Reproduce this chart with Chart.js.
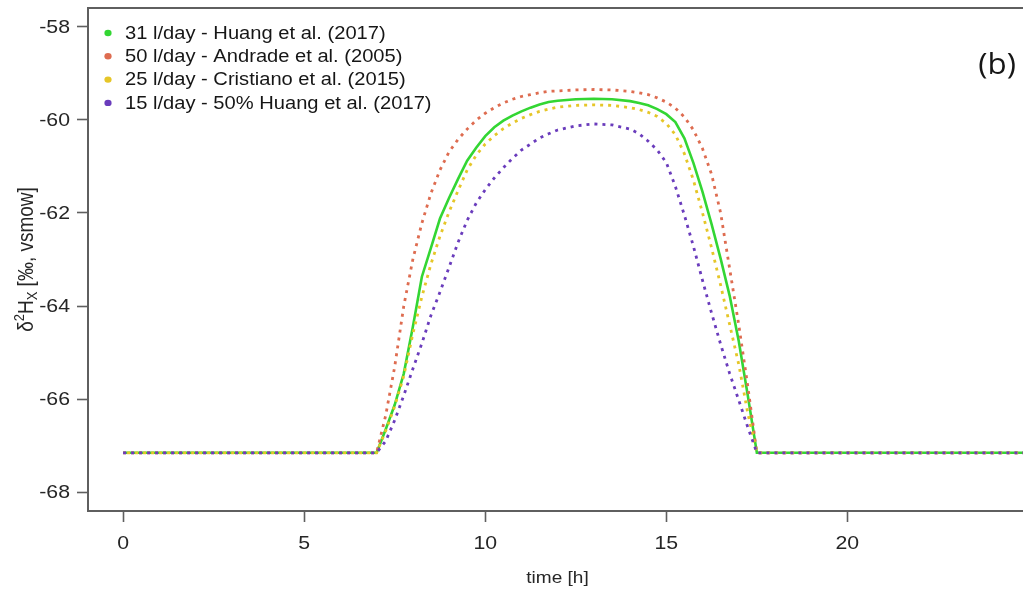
<!DOCTYPE html>
<html>
<head>
<meta charset="utf-8">
<script src="https://cdn.jsdelivr.net/npm/chart.js@4.4.1/dist/chart.umd.min.js"></script>
<style>
  html, body { margin: 0; padding: 0; background: #ffffff; overflow: hidden; }
  #wrap { width: 1023px; height: 589px; }
</style>
</head>
<body>
<div id="wrap"><canvas id="chart" width="1023" height="589"></canvas></div>
<script>
// Simulation time steps [h]
const times = [0, 1, 2, 3, 4, 5, 6, 7,
  7.25, 7.5, 7.75, 8, 8.25, 8.5, 8.75, 9, 9.25, 9.5, 9.75, 10,
  10.25, 10.5, 10.75, 11, 11.25, 11.5, 11.75, 12,
  12.5, 13, 13.5, 14,
  14.25, 14.5, 14.75, 15, 15.25, 15.5, 15.75, 16, 16.25, 16.5, 16.75, 17, 17.25, 17.5,
  18, 19, 20, 21, 22, 23, 24, 25];

// δ2H of xylem water [‰, VSMOW] for each transpiration scenario
const huang31 = [-67.15, -67.15, -67.15, -67.15, -67.15, -67.15, -67.15, -67.15,
  -66.65, -66.12, -65.45, -64.45, -63.37, -62.75, -62.12, -61.68, -61.27, -60.88, -60.60, -60.35,
  -60.16, -60.02, -59.91, -59.82, -59.74, -59.67, -59.62, -59.59,
  -59.56, -59.55, -59.56, -59.60,
  -59.64, -59.69, -59.77, -59.88, -60.05, -60.40, -60.93, -61.55, -62.24, -62.98, -63.78, -64.75, -65.92, -67.15,
  -67.15, -67.15, -67.15, -67.15, -67.15, -67.15, -67.15, -67.15];

const andrade50 = [-67.15, -67.15, -67.15, -67.15, -67.15, -67.15, -67.15, -67.15,
  -66.35, -65.30, -64.00, -63.00, -62.22, -61.58, -61.08, -60.69, -60.42, -60.20, -60.01, -59.86,
  -59.74, -59.64, -59.56, -59.50, -59.46, -59.42, -59.39, -59.38,
  -59.36, -59.35, -59.36, -59.39,
  -59.42, -59.46, -59.53, -59.62, -59.75, -59.94, -60.22, -60.62, -61.17, -62.00, -63.20, -64.40, -65.72, -67.15,
  -67.15, -67.15, -67.15, -67.15, -67.15, -67.15, -67.15, -67.15];

const cristiano25 = [-67.15, -67.15, -67.15, -67.15, -67.15, -67.15, -67.15, -67.15,
  -66.68, -66.15, -65.50, -64.60, -63.80, -63.10, -62.50, -61.98, -61.52, -61.08, -60.76, -60.52,
  -60.34, -60.19, -60.07, -59.97, -59.89, -59.82, -59.77, -59.73,
  -59.69, -59.68, -59.69, -59.74,
  -59.78, -59.84, -59.93, -60.08, -60.32, -60.73, -61.30, -62.00, -62.75, -63.55, -64.40, -65.25, -66.30, -67.15,
  -67.15, -67.15, -67.15, -67.15, -67.15, -67.15, -67.15, -67.15];

const huang15 = [-67.15, -67.15, -67.15, -67.15, -67.15, -67.15, -67.15, -67.15,
  -66.90, -66.45, -65.92, -65.35, -64.80, -64.20, -63.70, -63.17, -62.63, -62.16, -61.79, -61.50,
  -61.25, -61.03, -60.83, -60.65, -60.52, -60.39, -60.30, -60.22,
  -60.13, -60.09, -60.11, -60.20,
  -60.30, -60.46, -60.65, -60.92, -61.43, -62.05, -62.72, -63.45, -64.15, -64.82, -65.45, -66.02, -66.60, -67.15,
  -67.15, -67.15, -67.15, -67.15, -67.15, -67.15, -67.15, -67.15];

const seriesNames = [
  '31 l/day - Huang et al. (2017)',
  '50 l/day - Andrade et al. (2005)',
  '25 l/day - Cristiano et al. (2015)',
  '15 l/day - 50% Huang et al. (2017)'
];
const seriesColors = ['#33d633', '#de6c50', '#e6c628', '#6a3cbc'];

const xTickValues = [0, 5, 10, 15, 20];
const yTickValues = [-68, -66, -64, -62, -60, -58];

const panelLabel = '(b)';
const xTitle = 'time [h]';

// pair each series with the time steps
const toPoints = arr => times.map((t, i) => ({ x: t, y: arr[i] }));

// glyphs of this figure are set a little wider than the font's natural width
const WIDEN = 1.15;
const FONT = '"Liberation Sans", Arial, sans-serif';

function wideText(ctx, txt, x, y, align, size, color, family, widen) {
  const k = widen || WIDEN;
  ctx.save();
  ctx.font = size + 'px ' + (family || FONT);
  ctx.fillStyle = color;
  ctx.textBaseline = 'middle';
  ctx.textAlign = 'left';
  const w = ctx.measureText(txt).width * k;
  let left = x;
  if (align === 'center') left = x - w / 2;
  else if (align === 'right') left = x - w;
  ctx.translate(left, y);
  ctx.scale(k, 1);
  ctx.fillText(txt, 0, 0);
  ctx.restore();
}

const figureText = {
  id: 'figureText',
  afterDraw(chart) {
    const ctx = chart.ctx;
    const area = chart.chartArea;
    const xs = chart.scales.x;
    const ys = chart.scales.y;

    // upper edge of the plot frame
    ctx.save();
    ctx.strokeStyle = '#5f5f5f';
    ctx.lineWidth = 2;
    ctx.beginPath();
    ctx.moveTo(area.left - 1, area.top);
    ctx.lineTo(area.right, area.top);
    ctx.stroke();
    ctx.restore();

    // tick labels
    xs.ticks.forEach(t => {
      wideText(ctx, String(t.value), xs.getPixelForValue(t.value), 544, 'center', 18.5, '#262626');
    });
    ys.ticks.forEach(t => {
      wideText(ctx, String(t.value), 70, ys.getPixelForValue(t.value) + 1, 'right', 18.5, '#262626');
    });

    // legend in the upper left corner of the panel
    seriesNames.forEach((name, i) => {
      const y = 33 + i * 23.3;
      ctx.save();
      ctx.fillStyle = seriesColors[i];
      ctx.beginPath();
      ctx.ellipse(108, y, 3.6, 3.2, 0, 0, Math.PI * 2);
      ctx.fill();
      ctx.restore();
      wideText(ctx, name, 125, y + 1, 'left', 17.5, '#161616');
    });

    // panel label
    wideText(ctx, panelLabel, 1016, 66, 'right', 29, '#161616', '"Open Sans", "Noto Sans", sans-serif', 1.08);

    // x axis title
    wideText(ctx, xTitle, (area.left + xs.getPixelForValue(24.96)) / 2, 578, 'center', 17, '#262626', FONT, 1.12);

    // y axis title: δ²H_X [‰, vsmow], written bottom to top
    const parts = [
      { t: '\u03B4', size: 19, dy: 0 },
      { t: '2', size: 13, dy: -6.5 },
      { t: 'H', size: 19, dy: 0 },
      { t: 'X', size: 13, dy: 5.5 },
      { t: ' [\u2030, vsmow]', size: 19, dy: 0 }
    ];
    ctx.save();
    let total = 0;
    parts.forEach(p => { ctx.font = p.size + 'px ' + FONT; p.w = ctx.measureText(p.t).width; total += p.w; });
    const cy = (area.top + area.bottom) / 2;
    ctx.translate(27, cy);
    ctx.scale(WIDEN, 1);
    ctx.rotate(-Math.PI / 2);
    ctx.fillStyle = '#262626';
    ctx.textBaseline = 'middle';
    ctx.textAlign = 'left';
    let pos = -total / 2;
    parts.forEach(p => {
      ctx.font = p.size + 'px ' + FONT;
      ctx.fillText(p.t, pos, p.dy);
      pos += p.w;
    });
    ctx.restore();
  }
};

const dotted = [3, 5];

new Chart(document.getElementById('chart'), {
  type: 'line',
  data: {
    datasets: [
      { label: seriesNames[0], data: toPoints(huang31), borderColor: seriesColors[0], borderWidth: 2.6, order: 4 },
      { label: seriesNames[1], data: toPoints(andrade50), borderColor: seriesColors[1], borderWidth: 2.8, borderDash: dotted, order: 3 },
      { label: seriesNames[2], data: toPoints(cristiano25), borderColor: seriesColors[2], borderWidth: 2.8, borderDash: dotted, borderDashOffset: 4, order: 2 },
      { label: seriesNames[3], data: toPoints(huang15), borderColor: seriesColors[3], borderWidth: 2.8, borderDash: dotted, order: 1 }
    ]
  },
  options: {
    responsive: false,
    devicePixelRatio: 1,
    animation: false,
    events: [],
    layout: { padding: { top: 8, right: 0, bottom: 0, left: 0 } },
    elements: {
      point: { radius: 0 },
      line: { tension: 0, borderCapStyle: 'butt', fill: false }
    },
    plugins: {
      legend: { display: false },
      tooltip: { enabled: false }
    },
    scales: {
      x: {
        type: 'linear',
        min: -0.97,
        max: 24.85,
        afterBuildTicks: s => { s.ticks = xTickValues.map(v => ({ value: v })); },
        afterFit: s => { s.height = 78; },
        ticks: { display: false },
        grid: { drawOnChartArea: false, drawTicks: true, tickLength: 11, tickColor: '#5f5f5f', tickWidth: 1.6 },
        border: { display: true, color: '#5f5f5f', width: 2 }
      },
      y: {
        type: 'linear',
        min: -68.4,
        max: -57.6,
        afterBuildTicks: s => { s.ticks = yTickValues.map(v => ({ value: v })); },
        afterFit: s => { s.width = 88; },
        ticks: { display: false },
        grid: { drawOnChartArea: false, drawTicks: true, tickLength: 11, tickColor: '#5f5f5f', tickWidth: 1.6 },
        border: { display: true, color: '#5f5f5f', width: 2 }
      }
    }
  },
  plugins: [figureText]
});
</script>
</body>
</html>
